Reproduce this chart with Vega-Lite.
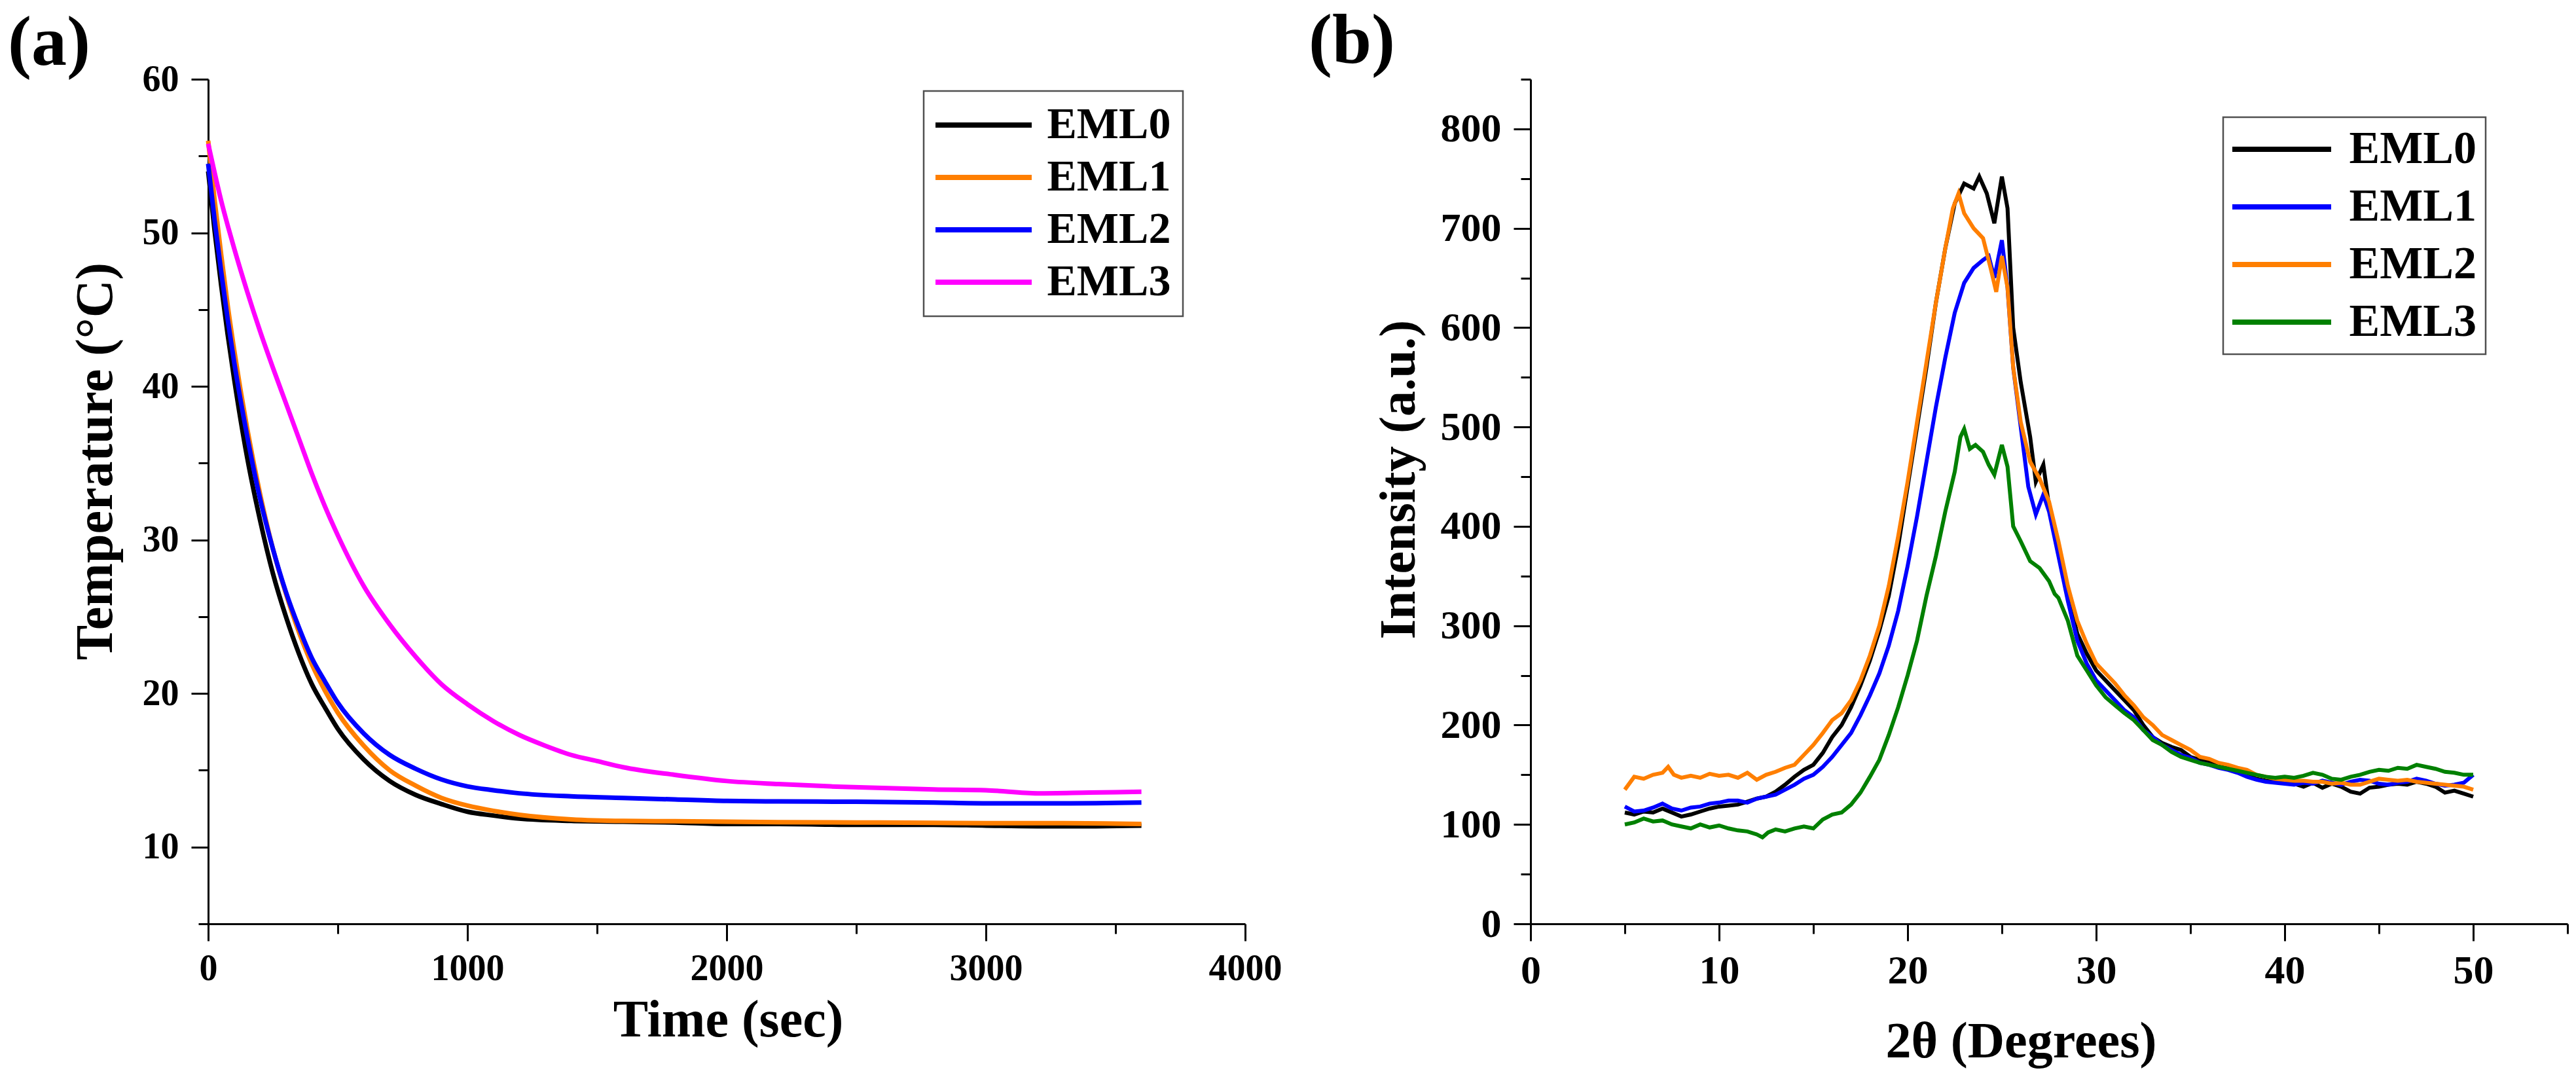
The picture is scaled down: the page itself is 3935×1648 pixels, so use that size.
{
"$schema": "https://vega.github.io/schema/vega-lite/v6.json",
"background": "white",
"padding": {"left": 12, "top": 10, "right": 5, "bottom": 5},
"autosize": {"type": "pad"},
"config": {
  "view": {"stroke": null},
  "font": "Liberation Serif",
  "axis": {"domainColor": "black", "domainWidth": 3, "tickColor": "black", "tickWidth": 3, "labelFont": "Liberation Serif", "labelFontWeight": "bold", "labelColor": "black", "titleFont": "Liberation Serif", "titleFontWeight": "bold", "titleColor": "black", "grid": false, "labelFlush": false, "labelOverlap": false, "labelBound": false},
  "legend": {"labelFont": "Liberation Serif", "labelFontWeight": "bold", "labelColor": "black", "labelLimit": 500, "symbolType": "M-5,0H5", "symbolStrokeWidth": 8, "strokeColor": "#505050", "fillColor": "white"},
  "title": {"font": "Liberation Serif", "fontWeight": "bold", "fontSize": 108, "color": "black", "anchor": "start", "frame": "group", "baseline": "alphabetic"}
},
"datasets": {
"cool": [
{"s":"EML0","t":0,"T":54.0},{"s":"EML0","t":25,"T":50.1},{"s":"EML0","t":50,"T":46.6},{"s":"EML0","t":75,"T":43.4},{"s":"EML0","t":100,"T":40.5},{"s":"EML0","t":150,"T":35.4},{"s":"EML0","t":200,"T":31.3},{"s":"EML0","t":250,"T":27.8},{"s":"EML0","t":300,"T":25.0},{"s":"EML0","t":350,"T":22.6},{"s":"EML0","t":400,"T":20.6},{"s":"EML0","t":450,"T":19.1},{"s":"EML0","t":500,"T":17.7},{"s":"EML0","t":600,"T":15.7},{"s":"EML0","t":700,"T":14.3},{"s":"EML0","t":800,"T":13.4},{"s":"EML0","t":900,"T":12.8},{"s":"EML0","t":1000,"T":12.3},{"s":"EML0","t":1100,"T":12.05},{"s":"EML0","t":1200,"T":11.85},{"s":"EML0","t":1400,"T":11.7},{"s":"EML0","t":1600,"T":11.65},{"s":"EML0","t":1800,"T":11.6},{"s":"EML0","t":2000,"T":11.5},{"s":"EML0","t":2200,"T":11.5},{"s":"EML0","t":2500,"T":11.45},{"s":"EML0","t":2800,"T":11.45},{"s":"EML0","t":3000,"T":11.4},{"s":"EML0","t":3300,"T":11.35},{"s":"EML0","t":3600,"T":11.4},
{"s":"EML1","t":0,"T":56.0},{"s":"EML1","t":25,"T":52.1},{"s":"EML1","t":50,"T":48.6},{"s":"EML1","t":75,"T":45.3},{"s":"EML1","t":100,"T":42.4},{"s":"EML1","t":150,"T":37.3},{"s":"EML1","t":200,"T":33.0},{"s":"EML1","t":250,"T":29.4},{"s":"EML1","t":300,"T":26.5},{"s":"EML1","t":350,"T":24.0},{"s":"EML1","t":400,"T":21.9},{"s":"EML1","t":450,"T":20.2},{"s":"EML1","t":500,"T":18.75},{"s":"EML1","t":600,"T":16.6},{"s":"EML1","t":700,"T":15.0},{"s":"EML1","t":800,"T":14.0},{"s":"EML1","t":900,"T":13.2},{"s":"EML1","t":1000,"T":12.7},{"s":"EML1","t":1100,"T":12.36},{"s":"EML1","t":1200,"T":12.1},{"s":"EML1","t":1400,"T":11.8},{"s":"EML1","t":1600,"T":11.7},{"s":"EML1","t":1800,"T":11.68},{"s":"EML1","t":2000,"T":11.65},{"s":"EML1","t":2200,"T":11.62},{"s":"EML1","t":2500,"T":11.6},{"s":"EML1","t":2800,"T":11.58},{"s":"EML1","t":3000,"T":11.55},{"s":"EML1","t":3300,"T":11.55},{"s":"EML1","t":3600,"T":11.5},
{"s":"EML2","t":0,"T":54.5},{"s":"EML2","t":25,"T":50.8},{"s":"EML2","t":50,"T":47.5},{"s":"EML2","t":75,"T":44.4},{"s":"EML2","t":100,"T":41.6},{"s":"EML2","t":150,"T":36.8},{"s":"EML2","t":200,"T":32.7},{"s":"EML2","t":250,"T":29.4},{"s":"EML2","t":300,"T":26.6},{"s":"EML2","t":350,"T":24.3},{"s":"EML2","t":400,"T":22.3},{"s":"EML2","t":450,"T":20.8},{"s":"EML2","t":500,"T":19.4},{"s":"EML2","t":600,"T":17.4},{"s":"EML2","t":700,"T":16.0},{"s":"EML2","t":800,"T":15.1},{"s":"EML2","t":900,"T":14.4},{"s":"EML2","t":1000,"T":13.95},{"s":"EML2","t":1100,"T":13.7},{"s":"EML2","t":1200,"T":13.5},{"s":"EML2","t":1400,"T":13.3},{"s":"EML2","t":1600,"T":13.2},{"s":"EML2","t":1800,"T":13.1},{"s":"EML2","t":2000,"T":13.0},{"s":"EML2","t":2200,"T":12.97},{"s":"EML2","t":2500,"T":12.95},{"s":"EML2","t":2800,"T":12.9},{"s":"EML2","t":3000,"T":12.85},{"s":"EML2","t":3300,"T":12.85},{"s":"EML2","t":3600,"T":12.9},
{"s":"EML3","t":0,"T":55.8},{"s":"EML3","t":25,"T":53.9},{"s":"EML3","t":50,"T":52.1},{"s":"EML3","t":75,"T":50.5},{"s":"EML3","t":100,"T":49.0},{"s":"EML3","t":150,"T":46.2},{"s":"EML3","t":200,"T":43.6},{"s":"EML3","t":250,"T":41.2},{"s":"EML3","t":300,"T":38.9},{"s":"EML3","t":350,"T":36.6},{"s":"EML3","t":400,"T":34.3},{"s":"EML3","t":450,"T":32.2},{"s":"EML3","t":500,"T":30.3},{"s":"EML3","t":600,"T":27.0},{"s":"EML3","t":700,"T":24.5},{"s":"EML3","t":800,"T":22.4},{"s":"EML3","t":900,"T":20.6},{"s":"EML3","t":1000,"T":19.3},{"s":"EML3","t":1100,"T":18.2},{"s":"EML3","t":1200,"T":17.3},{"s":"EML3","t":1300,"T":16.6},{"s":"EML3","t":1400,"T":16.0},{"s":"EML3","t":1500,"T":15.6},{"s":"EML3","t":1600,"T":15.2},{"s":"EML3","t":1800,"T":14.7},{"s":"EML3","t":2000,"T":14.3},{"s":"EML3","t":2200,"T":14.1},{"s":"EML3","t":2400,"T":13.95},{"s":"EML3","t":2600,"T":13.85},{"s":"EML3","t":2800,"T":13.75},{"s":"EML3","t":3000,"T":13.7},{"s":"EML3","t":3200,"T":13.5},{"s":"EML3","t":3400,"T":13.55},{"s":"EML3","t":3600,"T":13.6}
],
"xrd": [
{"s":"EML0","x":5,"y":112},{"s":"EML0","x":5.5,"y":110},{"s":"EML0","x":6,"y":113},{"s":"EML0","x":6.5,"y":112},{"s":"EML0","x":7,"y":116},{"s":"EML0","x":7.5,"y":112},{"s":"EML0","x":8,"y":108},{"s":"EML0","x":8.5,"y":110},{"s":"EML0","x":9,"y":113},{"s":"EML0","x":9.5,"y":116},{"s":"EML0","x":10,"y":118},{"s":"EML0","x":10.5,"y":119},{"s":"EML0","x":11,"y":120},{"s":"EML0","x":11.5,"y":123},{"s":"EML0","x":12,"y":126},{"s":"EML0","x":12.5,"y":128},{"s":"EML0","x":13,"y":133},{"s":"EML0","x":13.5,"y":140},{"s":"EML0","x":14,"y":148},{"s":"EML0","x":14.5,"y":155},{"s":"EML0","x":15,"y":160},{"s":"EML0","x":15.5,"y":172},{"s":"EML0","x":16,"y":188},{"s":"EML0","x":16.5,"y":200},{"s":"EML0","x":17,"y":218},{"s":"EML0","x":17.5,"y":240},{"s":"EML0","x":18,"y":265},{"s":"EML0","x":18.5,"y":295},{"s":"EML0","x":19,"y":330},{"s":"EML0","x":19.5,"y":380},{"s":"EML0","x":20,"y":440},{"s":"EML0","x":20.5,"y":500},{"s":"EML0","x":21,"y":560},{"s":"EML0","x":21.5,"y":625},{"s":"EML0","x":22,"y":680},{"s":"EML0","x":22.5,"y":725},{"s":"EML0","x":23,"y":745},{"s":"EML0","x":23.5,"y":740},{"s":"EML0","x":23.8,"y":752},{"s":"EML0","x":24.2,"y":735},{"s":"EML0","x":24.6,"y":705},{"s":"EML0","x":25,"y":752},{"s":"EML0","x":25.3,"y":720},{"s":"EML0","x":25.6,"y":600},{"s":"EML0","x":26,"y":545},{"s":"EML0","x":26.5,"y":490},{"s":"EML0","x":26.8,"y":445},{"s":"EML0","x":27.2,"y":462},{"s":"EML0","x":27.5,"y":420},{"s":"EML0","x":28,"y":375},{"s":"EML0","x":28.5,"y":330},{"s":"EML0","x":29,"y":292},{"s":"EML0","x":29.5,"y":272},{"s":"EML0","x":30,"y":255},{"s":"EML0","x":30.5,"y":245},{"s":"EML0","x":31,"y":235},{"s":"EML0","x":31.5,"y":225},{"s":"EML0","x":32,"y":215},{"s":"EML0","x":32.5,"y":200},{"s":"EML0","x":33,"y":188},{"s":"EML0","x":33.5,"y":182},{"s":"EML0","x":34,"y":178},{"s":"EML0","x":34.5,"y":175},{"s":"EML0","x":35,"y":168},{"s":"EML0","x":35.5,"y":165},{"s":"EML0","x":36,"y":163},{"s":"EML0","x":36.5,"y":160},{"s":"EML0","x":37,"y":157},{"s":"EML0","x":37.5,"y":155},{"s":"EML0","x":38,"y":150},{"s":"EML0","x":38.5,"y":146},{"s":"EML0","x":39,"y":144},{"s":"EML0","x":39.5,"y":143},{"s":"EML0","x":40,"y":142},{"s":"EML0","x":40.5,"y":141},{"s":"EML0","x":41,"y":138},{"s":"EML0","x":41.5,"y":142},{"s":"EML0","x":42,"y":137},{"s":"EML0","x":42.5,"y":141},{"s":"EML0","x":43,"y":138},{"s":"EML0","x":43.5,"y":133},{"s":"EML0","x":44,"y":131},{"s":"EML0","x":44.5,"y":137},{"s":"EML0","x":45,"y":138},{"s":"EML0","x":45.5,"y":140},{"s":"EML0","x":46,"y":141},{"s":"EML0","x":46.5,"y":140},{"s":"EML0","x":47,"y":143},{"s":"EML0","x":47.5,"y":141},{"s":"EML0","x":48,"y":138},{"s":"EML0","x":48.5,"y":132},{"s":"EML0","x":49,"y":134},{"s":"EML0","x":49.5,"y":131},{"s":"EML0","x":50,"y":128},
{"s":"EML1","x":5,"y":118},{"s":"EML1","x":5.5,"y":113},{"s":"EML1","x":6,"y":114},{"s":"EML1","x":6.5,"y":117},{"s":"EML1","x":7,"y":121},{"s":"EML1","x":7.5,"y":116},{"s":"EML1","x":8,"y":114},{"s":"EML1","x":8.5,"y":117},{"s":"EML1","x":9,"y":118},{"s":"EML1","x":9.5,"y":121},{"s":"EML1","x":10,"y":122},{"s":"EML1","x":10.5,"y":124},{"s":"EML1","x":11,"y":124},{"s":"EML1","x":11.5,"y":122},{"s":"EML1","x":12,"y":126},{"s":"EML1","x":12.5,"y":128},{"s":"EML1","x":13,"y":130},{"s":"EML1","x":13.5,"y":135},{"s":"EML1","x":14,"y":140},{"s":"EML1","x":14.5,"y":146},{"s":"EML1","x":15,"y":150},{"s":"EML1","x":15.5,"y":158},{"s":"EML1","x":16,"y":168},{"s":"EML1","x":16.5,"y":180},{"s":"EML1","x":17,"y":192},{"s":"EML1","x":17.5,"y":210},{"s":"EML1","x":18,"y":230},{"s":"EML1","x":18.5,"y":252},{"s":"EML1","x":19,"y":280},{"s":"EML1","x":19.5,"y":315},{"s":"EML1","x":20,"y":360},{"s":"EML1","x":20.5,"y":410},{"s":"EML1","x":21,"y":465},{"s":"EML1","x":21.5,"y":520},{"s":"EML1","x":22,"y":570},{"s":"EML1","x":22.5,"y":615},{"s":"EML1","x":23,"y":645},{"s":"EML1","x":23.5,"y":660},{"s":"EML1","x":24,"y":668},{"s":"EML1","x":24.3,"y":672},{"s":"EML1","x":24.6,"y":650},{"s":"EML1","x":25,"y":688},{"s":"EML1","x":25.3,"y":640},{"s":"EML1","x":25.6,"y":560},{"s":"EML1","x":26,"y":500},{"s":"EML1","x":26.4,"y":440},{"s":"EML1","x":26.8,"y":412},{"s":"EML1","x":27.2,"y":432},{"s":"EML1","x":27.5,"y":415},{"s":"EML1","x":28,"y":370},{"s":"EML1","x":28.5,"y":325},{"s":"EML1","x":29,"y":285},{"s":"EML1","x":29.5,"y":262},{"s":"EML1","x":30,"y":245},{"s":"EML1","x":30.5,"y":235},{"s":"EML1","x":31,"y":225},{"s":"EML1","x":31.5,"y":215},{"s":"EML1","x":32,"y":208},{"s":"EML1","x":32.5,"y":195},{"s":"EML1","x":33,"y":188},{"s":"EML1","x":33.5,"y":180},{"s":"EML1","x":34,"y":175},{"s":"EML1","x":34.5,"y":170},{"s":"EML1","x":35,"y":167},{"s":"EML1","x":35.5,"y":162},{"s":"EML1","x":36,"y":160},{"s":"EML1","x":36.5,"y":157},{"s":"EML1","x":37,"y":155},{"s":"EML1","x":37.5,"y":152},{"s":"EML1","x":38,"y":148},{"s":"EML1","x":38.5,"y":145},{"s":"EML1","x":39,"y":143},{"s":"EML1","x":39.5,"y":142},{"s":"EML1","x":40,"y":141},{"s":"EML1","x":40.5,"y":140},{"s":"EML1","x":41,"y":142},{"s":"EML1","x":41.5,"y":141},{"s":"EML1","x":42,"y":144},{"s":"EML1","x":42.5,"y":142},{"s":"EML1","x":43,"y":140},{"s":"EML1","x":43.5,"y":143},{"s":"EML1","x":44,"y":145},{"s":"EML1","x":44.5,"y":144},{"s":"EML1","x":45,"y":141},{"s":"EML1","x":45.5,"y":140},{"s":"EML1","x":46,"y":142},{"s":"EML1","x":46.5,"y":143},{"s":"EML1","x":47,"y":146},{"s":"EML1","x":47.5,"y":144},{"s":"EML1","x":48,"y":141},{"s":"EML1","x":48.5,"y":139},{"s":"EML1","x":49,"y":140},{"s":"EML1","x":49.5,"y":142},{"s":"EML1","x":50,"y":150},
{"s":"EML2","x":5,"y":135},{"s":"EML2","x":5.5,"y":148},{"s":"EML2","x":6,"y":146},{"s":"EML2","x":6.5,"y":150},{"s":"EML2","x":7,"y":152},{"s":"EML2","x":7.3,"y":158},{"s":"EML2","x":7.6,"y":150},{"s":"EML2","x":8,"y":147},{"s":"EML2","x":8.5,"y":149},{"s":"EML2","x":9,"y":147},{"s":"EML2","x":9.5,"y":151},{"s":"EML2","x":10,"y":149},{"s":"EML2","x":10.5,"y":150},{"s":"EML2","x":11,"y":147},{"s":"EML2","x":11.5,"y":152},{"s":"EML2","x":12,"y":145},{"s":"EML2","x":12.5,"y":150},{"s":"EML2","x":13,"y":153},{"s":"EML2","x":13.5,"y":157},{"s":"EML2","x":14,"y":160},{"s":"EML2","x":14.5,"y":170},{"s":"EML2","x":15,"y":180},{"s":"EML2","x":15.5,"y":192},{"s":"EML2","x":16,"y":205},{"s":"EML2","x":16.5,"y":212},{"s":"EML2","x":17,"y":225},{"s":"EML2","x":17.5,"y":245},{"s":"EML2","x":18,"y":270},{"s":"EML2","x":18.5,"y":300},{"s":"EML2","x":19,"y":340},{"s":"EML2","x":19.5,"y":390},{"s":"EML2","x":20,"y":445},{"s":"EML2","x":20.5,"y":505},{"s":"EML2","x":21,"y":565},{"s":"EML2","x":21.5,"y":625},{"s":"EML2","x":22,"y":680},{"s":"EML2","x":22.4,"y":720},{"s":"EML2","x":22.7,"y":735},{"s":"EML2","x":23,"y":715},{"s":"EML2","x":23.5,"y":700},{"s":"EML2","x":24,"y":690},{"s":"EML2","x":24.4,"y":660},{"s":"EML2","x":24.7,"y":636},{"s":"EML2","x":25,"y":672},{"s":"EML2","x":25.3,"y":640},{"s":"EML2","x":25.6,"y":560},{"s":"EML2","x":26,"y":505},{"s":"EML2","x":26.5,"y":465},{"s":"EML2","x":27,"y":448},{"s":"EML2","x":27.5,"y":425},{"s":"EML2","x":28,"y":385},{"s":"EML2","x":28.5,"y":340},{"s":"EML2","x":29,"y":305},{"s":"EML2","x":29.5,"y":282},{"s":"EML2","x":30,"y":262},{"s":"EML2","x":30.5,"y":252},{"s":"EML2","x":31,"y":242},{"s":"EML2","x":31.5,"y":230},{"s":"EML2","x":32,"y":220},{"s":"EML2","x":32.5,"y":208},{"s":"EML2","x":33,"y":200},{"s":"EML2","x":33.5,"y":190},{"s":"EML2","x":34,"y":185},{"s":"EML2","x":34.5,"y":180},{"s":"EML2","x":35,"y":175},{"s":"EML2","x":35.5,"y":168},{"s":"EML2","x":36,"y":166},{"s":"EML2","x":36.5,"y":162},{"s":"EML2","x":37,"y":160},{"s":"EML2","x":37.5,"y":157},{"s":"EML2","x":38,"y":155},{"s":"EML2","x":38.5,"y":150},{"s":"EML2","x":39,"y":148},{"s":"EML2","x":39.5,"y":146},{"s":"EML2","x":40,"y":145},{"s":"EML2","x":40.5,"y":144},{"s":"EML2","x":41,"y":144},{"s":"EML2","x":41.5,"y":143},{"s":"EML2","x":42,"y":143},{"s":"EML2","x":42.5,"y":141},{"s":"EML2","x":43,"y":142},{"s":"EML2","x":43.5,"y":140},{"s":"EML2","x":44,"y":140},{"s":"EML2","x":44.5,"y":143},{"s":"EML2","x":45,"y":146},{"s":"EML2","x":45.5,"y":145},{"s":"EML2","x":46,"y":144},{"s":"EML2","x":46.5,"y":145},{"s":"EML2","x":47,"y":143},{"s":"EML2","x":47.5,"y":142},{"s":"EML2","x":48,"y":141},{"s":"EML2","x":48.5,"y":140},{"s":"EML2","x":49,"y":139},{"s":"EML2","x":49.5,"y":138},{"s":"EML2","x":50,"y":135},
{"s":"EML3","x":5,"y":100},{"s":"EML3","x":5.5,"y":102},{"s":"EML3","x":6,"y":106},{"s":"EML3","x":6.5,"y":103},{"s":"EML3","x":7,"y":104},{"s":"EML3","x":7.5,"y":100},{"s":"EML3","x":8,"y":98},{"s":"EML3","x":8.5,"y":96},{"s":"EML3","x":9,"y":100},{"s":"EML3","x":9.5,"y":97},{"s":"EML3","x":10,"y":99},{"s":"EML3","x":10.5,"y":96},{"s":"EML3","x":11,"y":94},{"s":"EML3","x":11.5,"y":93},{"s":"EML3","x":12,"y":90},{"s":"EML3","x":12.3,"y":87},{"s":"EML3","x":12.6,"y":92},{"s":"EML3","x":13,"y":95},{"s":"EML3","x":13.5,"y":93},{"s":"EML3","x":14,"y":96},{"s":"EML3","x":14.5,"y":98},{"s":"EML3","x":15,"y":96},{"s":"EML3","x":15.5,"y":105},{"s":"EML3","x":16,"y":110},{"s":"EML3","x":16.5,"y":112},{"s":"EML3","x":17,"y":120},{"s":"EML3","x":17.5,"y":132},{"s":"EML3","x":18,"y":148},{"s":"EML3","x":18.5,"y":165},{"s":"EML3","x":19,"y":190},{"s":"EML3","x":19.5,"y":218},{"s":"EML3","x":20,"y":250},{"s":"EML3","x":20.5,"y":285},{"s":"EML3","x":21,"y":330},{"s":"EML3","x":21.5,"y":370},{"s":"EML3","x":22,"y":415},{"s":"EML3","x":22.5,"y":455},{"s":"EML3","x":22.8,"y":490},{"s":"EML3","x":23,"y":498},{"s":"EML3","x":23.3,"y":478},{"s":"EML3","x":23.6,"y":482},{"s":"EML3","x":24,"y":475},{"s":"EML3","x":24.3,"y":462},{"s":"EML3","x":24.6,"y":452},{"s":"EML3","x":25,"y":482},{"s":"EML3","x":25.3,"y":460},{"s":"EML3","x":25.6,"y":400},{"s":"EML3","x":26,"y":385},{"s":"EML3","x":26.5,"y":365},{"s":"EML3","x":27,"y":358},{"s":"EML3","x":27.5,"y":345},{"s":"EML3","x":27.8,"y":332},{"s":"EML3","x":28,"y":328},{"s":"EML3","x":28.5,"y":305},{"s":"EML3","x":29,"y":270},{"s":"EML3","x":29.5,"y":255},{"s":"EML3","x":30,"y":240},{"s":"EML3","x":30.5,"y":228},{"s":"EML3","x":31,"y":220},{"s":"EML3","x":31.5,"y":212},{"s":"EML3","x":32,"y":205},{"s":"EML3","x":32.5,"y":195},{"s":"EML3","x":33,"y":185},{"s":"EML3","x":33.5,"y":180},{"s":"EML3","x":34,"y":173},{"s":"EML3","x":34.5,"y":168},{"s":"EML3","x":35,"y":165},{"s":"EML3","x":35.5,"y":162},{"s":"EML3","x":36,"y":160},{"s":"EML3","x":36.5,"y":158},{"s":"EML3","x":37,"y":156},{"s":"EML3","x":37.5,"y":154},{"s":"EML3","x":38,"y":152},{"s":"EML3","x":38.5,"y":150},{"s":"EML3","x":39,"y":148},{"s":"EML3","x":39.5,"y":147},{"s":"EML3","x":40,"y":148},{"s":"EML3","x":40.5,"y":147},{"s":"EML3","x":41,"y":149},{"s":"EML3","x":41.5,"y":152},{"s":"EML3","x":42,"y":150},{"s":"EML3","x":42.5,"y":146},{"s":"EML3","x":43,"y":145},{"s":"EML3","x":43.5,"y":148},{"s":"EML3","x":44,"y":150},{"s":"EML3","x":44.5,"y":153},{"s":"EML3","x":45,"y":155},{"s":"EML3","x":45.5,"y":154},{"s":"EML3","x":46,"y":157},{"s":"EML3","x":46.5,"y":156},{"s":"EML3","x":47,"y":160},{"s":"EML3","x":47.5,"y":158},{"s":"EML3","x":48,"y":156},{"s":"EML3","x":48.5,"y":153},{"s":"EML3","x":49,"y":152},{"s":"EML3","x":49.5,"y":150},{"s":"EML3","x":50,"y":150}
]
},
"resolve": {"scale": {"color": "independent", "x": "independent", "y": "independent"}, "legend": {"color": "independent"}},
"spacing": 436,
"bounds": "flush",
"hconcat": [
  {
    "title": {"text": "(a)", "dx": -306, "offset": -29},
    "width": 1584,
    "height": 1290,
    "data": {"name": "cool"},
    "mark": {"type": "line", "strokeWidth": 7, "interpolate": "monotone"},
    "encoding": {
      "x": {"field": "t", "type": "quantitative",
        "scale": {"domain": [0, 4000], "nice": false, "zero": false},
        "axis": {"title": "Time (sec)", "values": [0,500,1000,1500,2000,2500,3000,3500,4000], "format": "d",
          "labelExpr": "datum.value % 1000 === 0 ? datum.label : ''",
          "tickSize": {"condition": {"test": "datum.value % 1000 !== 0", "value": 15}, "value": 26},
          "labelFontSize": 56, "labelPadding": 15, "titleFontSize": 80,
          "titleX": 794, "titleY": 171, "titleBaseline": "alphabetic", "titleAlign": "center"}},
      "y": {"field": "T", "type": "quantitative",
        "scale": {"domain": [5, 60], "nice": false, "zero": false},
        "axis": {"title": "Temperature (°C)", "values": [5,10,15,20,25,30,35,40,45,50,55,60], "format": "d",
          "labelExpr": "datum.value % 10 === 0 ? datum.label : ''",
          "tickSize": {"condition": {"test": "datum.value % 10 !== 0", "value": 15}, "value": 26},
          "labelFontSize": 56, "labelPadding": 19, "titleFontSize": 80,
          "titleX": -148, "titleY": 583, "titleBaseline": "alphabetic", "titleAlign": "center", "titleAngle": -90}},
      "color": {"field": "s", "type": "nominal",
        "scale": {"domain": ["EML0","EML1","EML2","EML3"], "range": ["#000000","#FF7F00","#0000FF","#FF00FF"]},
        "legend": {"title": null, "orient": "none", "legendX": 1093, "legendY": 18, "labelFontSize": 68,
          "symbolSize": 864, "symbolOffset": 39.5, "labelOffset": 63, "rowPadding": 12, "padding": 18,
          "strokeColor": "#505050", "encode": {"legend": {"update": {"strokeWidth": {"value": 2.5}}}}}}
    }
  },
  {
    "title": {"text": "(b)", "dx": -339, "offset": -29},
    "width": 1584,
    "height": 1290,
    "data": {"name": "xrd"},
    "mark": {"type": "line", "strokeWidth": 6},
    "encoding": {
      "x": {"field": "x", "type": "quantitative",
        "scale": {"domain": [0, 55], "nice": false, "zero": false},
        "axis": {"title": "2θ (Degrees)", "values": [0,5,10,15,20,25,30,35,40,45,50,55], "format": "d",
          "labelExpr": "datum.value % 10 === 0 ? datum.label : ''",
          "tickSize": {"condition": {"test": "datum.value % 10 !== 0", "value": 15}, "value": 26},
          "labelFontSize": 62, "labelPadding": 15, "titleFontSize": 78,
          "titleX": 749, "titleY": 203, "titleBaseline": "alphabetic", "titleAlign": "center"}},
      "y": {"field": "y", "type": "quantitative",
        "scale": {"domain": [0, 850], "nice": false, "zero": false},
        "axis": {"title": "Intensity (a.u.)", "values": [0,50,100,150,200,250,300,350,400,450,500,550,600,650,700,750,800,850], "format": "d",
          "labelExpr": "datum.value % 100 === 0 ? datum.label : ''",
          "tickSize": {"condition": {"test": "datum.value % 100 !== 0", "value": 15}, "value": 26},
          "labelFontSize": 62, "labelPadding": 19, "titleFontSize": 78,
          "titleX": -178, "titleY": 611, "titleBaseline": "alphabetic", "titleAlign": "center", "titleAngle": -90}},
      "color": {"field": "s", "type": "nominal",
        "scale": {"domain": ["EML0","EML1","EML2","EML3"], "range": ["#000000","#0000FF","#FF7F00","#008000"]},
        "legend": {"title": null, "orient": "none", "legendX": 1058, "legendY": 58, "labelFontSize": 70,
          "symbolSize": 912, "symbolOffset": 40.5, "labelOffset": 68, "rowPadding": 18, "padding": 14,
          "strokeColor": "#505050", "encode": {"legend": {"update": {"strokeWidth": {"value": 2.5}}}}}}
    }
  }
]
}
